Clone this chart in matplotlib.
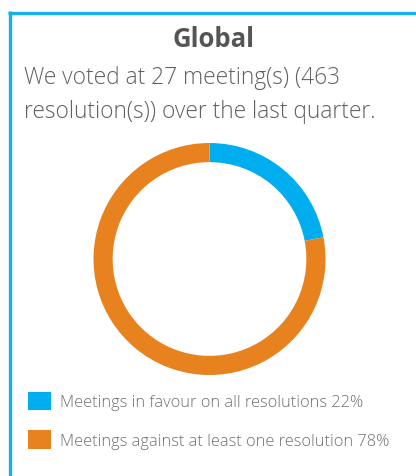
import matplotlib
matplotlib.use('Agg')
import matplotlib.pyplot as plt
from matplotlib.lines import Line2D

title = 'Global'
subtitle_lines = ['We voted at 27 meeting(s) (463', 'resolution(s)) over the last quarter.']
labels = ['Meetings in favour on all resolutions', 'Meetings against at least one resolution']
shares = [22, 78]
colors = ['#00adee', '#e8821e']

W, H = 416, 477
fig = plt.figure(figsize=(W / 100, H / 100), dpi=100)
fig.patch.set_facecolor('white')

def fx(px):
    return px / W

def fy(py):
    # py measured from the top of the picture
    return 1 - py / H

# blue frame, left and top only
border = '#13b0ec'
fig.add_artist(Line2D([fx(9.5), fx(9.5)], [fy(12), 0], color=border, lw=2.4, solid_capstyle='butt'))
fig.add_artist(Line2D([fx(8.3), 1], [fy(13.5), fy(13.5)], color=border, lw=2.4, solid_capstyle='butt'))

fig.text(fx(213.5), fy(47), title, ha='center', va='baseline', fontsize=18.5,
         fontweight='bold', family='Open Sans', color='#555555')
for i, line in enumerate(subtitle_lines):
    fig.text(fx(24), fy(83.5 + 35 * i), line, ha='left', va='baseline', fontsize=16.4,
             family='Open Sans', fontweight='light', color='#606060')

# donut
cx, cy, r = 209.5, 260, 116
ax = fig.add_axes([fx(cx - r), fy(cy + r), 2 * r / W, 2 * r / H])
wedges, _ = ax.pie(shares, colors=colors, startangle=90, counterclock=False, radius=1,
                   wedgeprops=dict(width=0.165, linewidth=0))
ax.set_xlim(-1, 1)
ax.set_ylim(-1, 1)
ax.set_aspect('equal')
ax.axis('off')

leg_labels = [f'{l} {s}%' for l, s in zip(labels, shares)]
fs = 11.8
px_per = fs * 100 / 72
leg = fig.legend(wedges, leg_labels, loc='upper left', bbox_to_anchor=(fx(28), fy(392.5)),
                 frameon=False, prop={'family': 'Open Sans', 'size': fs, 'weight': 'light'},
                 handlelength=23 / px_per, handleheight=23 / px_per,
                 handletextpad=9 / px_per, labelspacing=1.2, borderpad=0, borderaxespad=0)
for t in leg.get_texts():
    t.set_color('#707070')

fig.savefig('out.png', dpi=100, facecolor='white')
